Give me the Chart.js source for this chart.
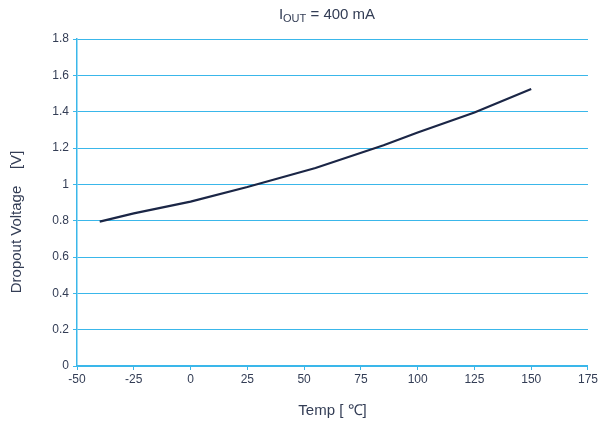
<!DOCTYPE html>
<html>
<head>
<meta charset="utf-8">
<script src="https://cdn.jsdelivr.net/npm/chart.js@4.4.1/dist/chart.umd.min.js"></script>
<style>
  html, body { margin: 0; padding: 0; background: #fff; }
  #wrap { position: relative; width: 600px; height: 425px; }
  #title {
    position: absolute; left: 77px; width: 500px; top: 5px; text-align: center;
    font-family: "Liberation Sans", Arial, sans-serif; font-size: 15px; color: #333d55;
  }
  #title sub { font-size: 11px; vertical-align: -3px; }
</style>
</head>
<body>
<div id="wrap">
  <canvas id="c" width="600" height="425"></canvas>
  <div id="title">I<sub>OUT</sub> = 400 mA</div>
</div>
<script>
// data
const temps = [-40, -25, 0, 25, 55, 85, 100, 125, 150];
const dropout = [0.795, 0.84, 0.905, 0.985, 1.09, 1.215, 1.285, 1.395, 1.525];
const yTicks = [0, 0.2, 0.4, 0.6, 0.8, 1, 1.2, 1.4, 1.6, 1.8];
const xTicks = [-50, -25, 0, 25, 50, 75, 100, 125, 150, 175];

const gridBlue = '#3ab7ea';
const textCol = '#333d55';

// y axis title sits a bit below the plot's middle in the original
const yTitle = {
  id: 'yTitle',
  afterDraw(chart) {
    const c = chart.ctx;
    c.save();
    c.translate(17, 222);
    c.rotate(-Math.PI / 2);
    c.font = '15px "Liberation Sans"';
    c.fillStyle = textCol;
    c.textAlign = 'center';
    c.textBaseline = 'middle';
    c.fillText('Dropout Voltage    [V]', 0, 0);
    c.restore();
  }
};

const ctx = document.getElementById('c');
const chart = new Chart(ctx, {
  type: 'line',
  data: {
    datasets: [{
      data: temps.map((t, i) => ({ x: t, y: dropout[i] })),
      borderColor: '#1b2646',
      borderWidth: 2.2,
      pointRadius: 0,
      tension: 0,
      fill: false
    }]
  },
  options: {
    responsive: false,
    animation: false,
    events: [],
    layout: { padding: { top: 39, right: 12, left: 0, bottom: 0 } },
    plugins: { legend: { display: false }, tooltip: { enabled: false } },
    scales: {
      x: {
        type: 'linear',
        min: -50, max: 175,
        afterBuildTicks: s => { s.ticks = xTicks.map(v => ({ value: v })); },
        afterFit: s => { s.height = 59; },
        grid: { drawOnChartArea: false, drawTicks: true, tickLength: 4, color: gridBlue, lineWidth: 1 },
        border: { display: true, color: gridBlue, width: 1.5 },
        ticks: { color: textCol, font: { family: 'Liberation Sans', size: 12 }, padding: 2, maxRotation: 0, callback: v => String(v) },
        title: { display: true, text: 'Temp [ ℃]', color: textCol, font: { family: 'Liberation Sans', size: 15 }, padding: { top: 0, bottom: 5 } }
      },
      y: {
        min: 0, max: 1.8,
        afterBuildTicks: s => { s.ticks = yTicks.map(v => ({ value: v })); },
        afterFit: s => { s.width = 77; },
        grid: { drawTicks: true, tickLength: 4, color: gridBlue, lineWidth: 1 },
        border: { display: true, color: gridBlue, width: 1.5 },
        ticks: { color: textCol, font: { family: 'Liberation Sans', size: 12 }, padding: 4, callback: v => String(v) }
      }
    }
  },
  plugins: [yTitle]
});
</script>
</body>
</html>
